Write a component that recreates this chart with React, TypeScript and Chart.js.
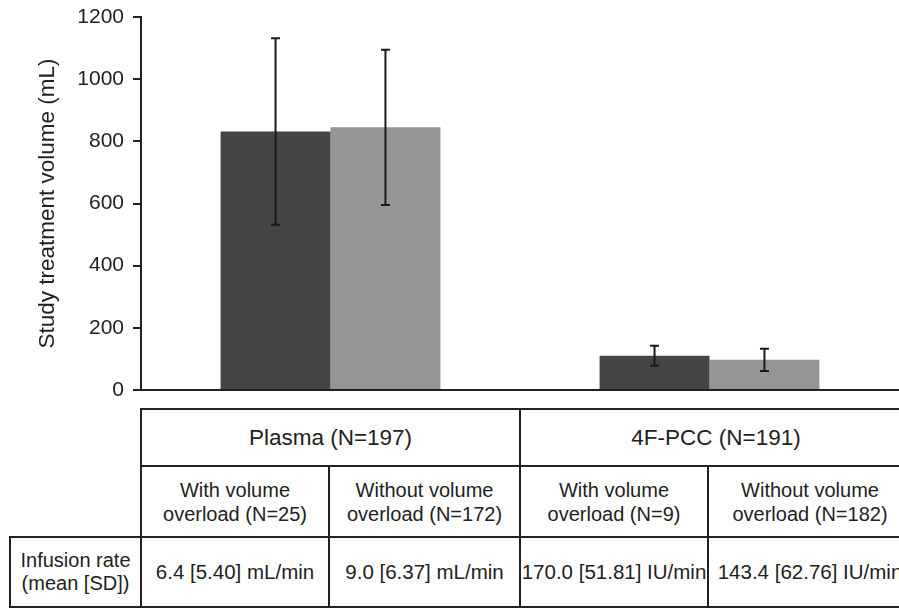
import React, { useEffect, useRef } from "react";
import { Chart, registerables } from "chart.js";

Chart.register(...registerables);

const categories = ["Plasma", "4F-PCC"];
const withOverloadMean = [832, 110];
const withOverloadSD = [300, 32];
const withoutOverloadMean = [845, 97];
const withoutOverloadSD = [250, 36];
const yMin = 0;
const yMax = 1200;
const yStep = 200;
const yTitle = "Study treatment volume (mL)";

const groupHeaders = ["Plasma (N=197)", "4F-PCC (N=191)"];
const subHeaders = [
  ["With volume", "overload (N=25)"],
  ["Without volume", "overload (N=172)"],
  ["With volume", "overload (N=9)"],
  ["Without volume", "overload (N=182)"],
];
const rowLabel = ["Infusion rate", "(mean [SD])"];
const infusionRates = [
  "6.4 [5.40] mL/min",
  "9.0 [6.37] mL/min",
  "170.0 [51.81] IU/min",
  "143.4 [62.76] IU/min",
];

const FONT = "'Liberation Sans', Arial, Helvetica, sans-serif";
const INK = "#222222";

const errorBarPlugin = {
  id: "errorBars",
  afterDatasetsDraw(chart: any) {
    const ctx = chart.ctx;
    const y = chart.scales.y;
    const sds = [withOverloadSD, withoutOverloadSD];
    chart.data.datasets.forEach((ds: any, i: number) => {
      const meta = chart.getDatasetMeta(i);
      meta.data.forEach((bar: any, j: number) => {
        const v = ds.data[j];
        const sd = sds[i][j];
        const yTop = y.getPixelForValue(v + sd);
        const yBot = y.getPixelForValue(v - sd);
        const x = bar.x;
        ctx.save();
        ctx.strokeStyle = "#1a1a1a";
        ctx.lineWidth = 2;
        ctx.beginPath();
        ctx.moveTo(x, yTop);
        ctx.lineTo(x, yBot);
        ctx.moveTo(x - 4.5, yTop);
        ctx.lineTo(x + 4.5, yTop);
        ctx.moveTo(x - 4.5, yBot);
        ctx.lineTo(x + 4.5, yBot);
        ctx.stroke();
        ctx.restore();
      });
    });
  },
};

type CellProps = {
  x0: number;
  x1: number;
  y0: number;
  y1: number;
  children?: React.ReactNode;
  fontSize?: number;
  lineHeight?: number;
};

function Cell({ x0, x1, y0, y1, children, fontSize = 20, lineHeight = 24 }: CellProps) {
  return (
    <div
      style={{
        position: "absolute",
        left: x0 - 1,
        top: y0 - 1,
        width: x1 - x0 + 2,
        height: y1 - y0 + 2,
        border: `2px solid ${INK}`,
        boxSizing: "border-box",
        display: "flex",
        alignItems: "center",
        justifyContent: "center",
        textAlign: "center",
        fontFamily: FONT,
        fontSize,
        lineHeight: `${lineHeight}px`,
        color: INK,
        whiteSpace: "nowrap",
      }}
    >
      <div>{children}</div>
    </div>
  );
}

export default function App() {
  const canvasRef = useRef<HTMLCanvasElement | null>(null);

  useEffect(() => {
    if (!canvasRef.current) return;
    const chart = new Chart(canvasRef.current, {
      type: "bar",
      data: {
        labels: categories,
        datasets: [
          {
            label: "With volume overload",
            data: withOverloadMean,
            backgroundColor: "#454545",
            categoryPercentage: 0.58,
            barPercentage: 1.0,
          },
          {
            label: "Without volume overload",
            data: withoutOverloadMean,
            backgroundColor: "#959595",
            categoryPercentage: 0.58,
            barPercentage: 1.0,
          },
        ],
      },
      options: {
        responsive: false,
        animation: false,
        layout: { padding: { top: 17, left: 0, right: 0, bottom: 0 } },
        plugins: {
          legend: { display: false },
          tooltip: { enabled: false },
        },
        scales: {
          x: {
            ticks: { display: false },
            grid: { display: false },
            border: { display: true, color: INK, width: 2 },
            afterFit: (s: any) => {
              s.height = 9;
              s.paddingLeft = 0;
              s.paddingRight = 0;
              s.paddingTop = 0;
              s.paddingBottom = 0;
            },
          },
          y: {
            min: yMin,
            max: yMax,
            ticks: {
              stepSize: yStep,
              color: INK,
              padding: 9,
              font: { family: FONT, size: 21 },
              callback: (v: any) => String(v),
            },
            grid: {
              display: true,
              drawOnChartArea: false,
              drawTicks: true,
              tickLength: 8,
              color: INK,
              lineWidth: 2,
            },
            border: { display: true, color: INK, width: 2 },
            title: {
              display: true,
              text: yTitle,
              color: INK,
              font: { family: FONT, size: 22.5 },
              padding: { top: 34, bottom: 0 },
            },
            afterFit: (s: any) => {
              s.width = 141;
              s.paddingTop = 0;
              s.paddingBottom = 0;
              s.paddingLeft = 0;
              s.paddingRight = 0;
            },
          },
        },
      },
      plugins: [errorBarPlugin],
    });
    return () => chart.destroy();
  }, []);

  const xs = [10, 141, 329, 520, 708, 912];
  const ys = [409, 466, 537, 607];

  return (
    <div
      style={{
        position: "absolute",
        left: 0,
        top: 0,
        width: 899,
        height: 608,
        overflow: "hidden",
        background: "#ffffff",
      }}
    >
      <canvas
        ref={canvasRef}
        width={899}
        height={399}
        style={{ position: "absolute", left: 0, top: 0, width: 899, height: 399 }}
      />
      {groupHeaders.map((g, i) => (
        <Cell key={"g" + i} x0={xs[1 + i * 2]} x1={xs[3 + i * 2]} y0={ys[0]} y1={ys[1]} fontSize={22.5} lineHeight={26}>
          {g}
        </Cell>
      ))}
      {subHeaders.map((lines, i) => (
        <Cell key={"s" + i} x0={xs[1 + i]} x1={xs[2 + i]} y0={ys[1]} y1={ys[2]} fontSize={20} lineHeight={24}>
          {lines[0]}
          <br />
          {lines[1]}
        </Cell>
      ))}
      <Cell x0={xs[0]} x1={xs[1]} y0={ys[2]} y1={ys[3]} fontSize={20} lineHeight={23}>
        {rowLabel[0]}
        <br />
        {rowLabel[1]}
      </Cell>
      {infusionRates.map((r, i) => (
        <Cell key={"r" + i} x0={xs[1 + i]} x1={xs[2 + i]} y0={ys[2]} y1={ys[3]} fontSize={20.5} lineHeight={24}>
          {r}
        </Cell>
      ))}
    </div>
  );
}
